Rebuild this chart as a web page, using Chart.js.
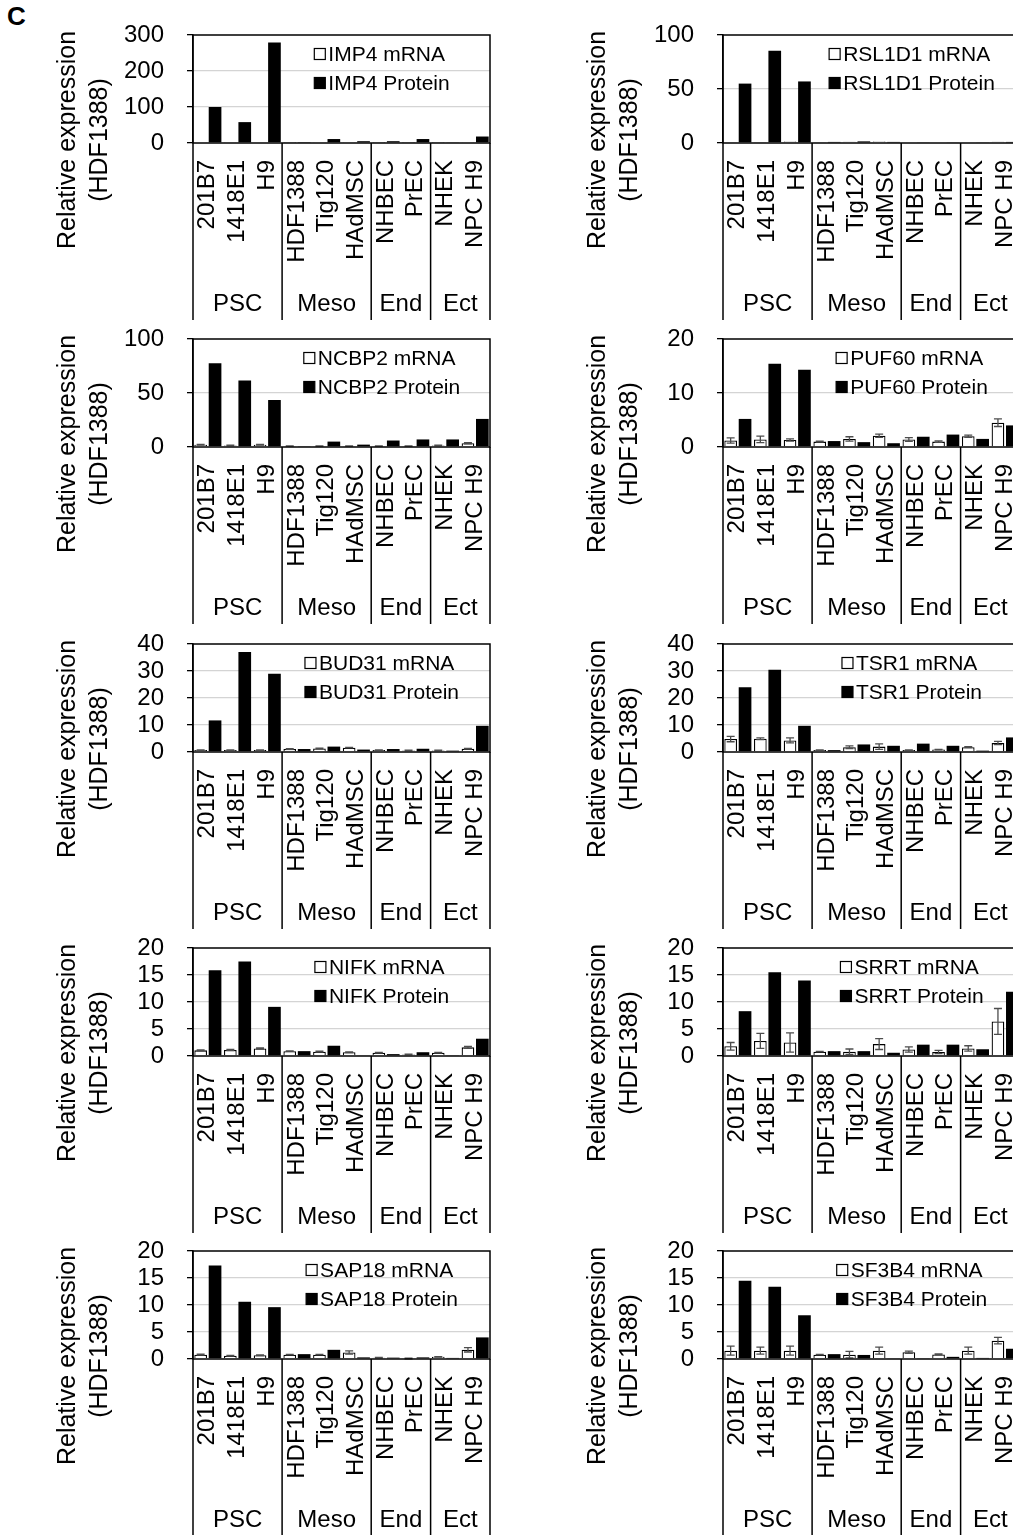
<!DOCTYPE html>
<html>
<head>
<meta charset="utf-8">
<script src="https://cdn.jsdelivr.net/npm/chart.js@4.4.1/dist/chart.umd.min.js"></script>
<style>
    html, body { margin: 0; padding: 0; width: 1013px; height: 1535px; overflow: hidden; background: #fff; }
    canvas.panel { position: absolute; }
    #panelLabel { position: absolute; left: 7px; top: 1px; font: bold 26px "Liberation Sans", Arial, sans-serif; }
</style>
</head>
<body>
<div id="panelLabel">C</div>
<script>
const FONT = '"Liberation Sans", Arial, sans-serif';

const categories = ['201B7', '1418E1', 'H9', 'HDF1388', 'Tig120', 'HAdMSC', 'NHBEC', 'PrEC', 'NHEK', 'NPC H9'];
const groupNames = ['PSC', 'Meso', 'End', 'Ect'];
const groupSizes = [3, 3, 2, 2];

const imp4Mrna = [1.5, 1.2, 2.0, 1.0, 1.2, 1.5, 1.0, 1.0, 1.0, 1.5];
const imp4Err = [0, 0, 0, 0, 0, 0, 0, 0, 0, 0];
const imp4Protein = [100, 58, 279, 1.0, 11, 5, 5, 11, 1.5, 18];

const rsl1d1Mrna = [1.0, 1.0, 1.5, 1.0, 1.2, 1.5, 0.8, 0.8, 0.8, 1.2];
const rsl1d1Err = [0, 0, 0, 0, 0, 0, 0, 0, 0, 0];
const rsl1d1Protein = [55, 85.5, 57, 1.0, 1.5, 1.0, 0.5, 0.5, 0.7, 1.0];

const ncbp2Mrna = [2.0, 1.5, 2.0, 1.0, 1.0, 1.0, 1.0, 1.0, 1.5, 3.5];
const ncbp2Err = [0.3, 0.2, 0.3, 0.1, 0.1, 0.1, 0.1, 0.1, 0.2, 0.5];
const ncbp2Protein = [77.5, 61.5, 43.5, 0.8, 5.0, 2.2, 6.0, 7.0, 7.0, 26];

const puf60Mrna = [1.2, 1.4, 1.3, 1.0, 1.5, 2.1, 1.4, 1.0, 2.0, 4.5];
const puf60Err = [0.5, 0.6, 0.2, 0.1, 0.4, 0.3, 0.35, 0.15, 0.2, 0.7];
const puf60Protein = [5.2, 15.4, 14.3, 1.1, 0.9, 0.7, 1.9, 2.3, 1.5, 4.0];

const bud31Mrna = [0.7, 0.7, 0.7, 1.1, 1.3, 1.6, 0.7, 0.6, 0.6, 1.2];
const bud31Err = [0.1, 0.1, 0.1, 0.1, 0.1, 0.1, 0.1, 0.1, 0.1, 0.1];
const bud31Protein = [11.7, 37, 29, 1.1, 2.0, 0.9, 1.1, 1.2, 0.5, 9.7];

const tsr1Mrna = [4.8, 4.9, 4.3, 0.7, 1.8, 2.0, 0.7, 0.9, 1.8, 3.3];
const tsr1Err = [1.0, 0.3, 0.9, 0.1, 0.5, 1.0, 0.1, 0.1, 0.2, 0.6];
const tsr1Protein = [24, 30.5, 9.7, 0.7, 2.8, 2.3, 3.1, 2.3, 0.5, 5.4];

const nifkMrna = [1.05, 1.1, 1.4, 0.9, 0.8, 0.7, 0.6, 0.3, 0.6, 1.6];
const nifkErr = [0.1, 0.1, 0.1, 0.05, 0.1, 0.05, 0.05, 0.05, 0.05, 0.2];
const nifkProtein = [15.9, 17.5, 9.1, 0.9, 1.9, 0.1, 0.35, 0.7, 0.15, 3.2];

const srrtMrna = [1.8, 2.8, 2.5, 0.8, 0.8, 2.2, 1.2, 0.75, 1.4, 6.4];
const srrtErr = [0.7, 1.4, 1.8, 0.05, 0.5, 1.0, 0.5, 0.3, 0.5, 2.4];
const srrtProtein = [8.3, 15.5, 14.0, 0.9, 0.9, 0.6, 2.1, 2.1, 1.25, 11.9];

const sap18Mrna = [0.8, 0.6, 0.7, 0.8, 0.8, 1.2, 0.25, 0.1, 0.4, 1.7];
const sap18Err = [0.1, 0.05, 0.05, 0.05, 0.05, 0.3, 0.05, 0.05, 0.05, 0.4];
const sap18Protein = [17.3, 10.6, 9.6, 0.9, 1.7, 0.3, 0.25, 0.3, 0.2, 4.0];

const sf3b4Mrna = [1.55, 1.55, 1.55, 0.8, 0.8, 1.55, 1.25, 0.85, 1.55, 3.4];
const sf3b4Err = [0.85, 0.65, 0.85, 0.05, 0.6, 0.65, 0.2, 0.1, 0.65, 0.6];
const sf3b4Protein = [14.5, 13.4, 8.1, 0.9, 0.75, 0.1, 0.15, 0.4, 0.2, 1.9];

// gene, mRNA, error, protein, axis max, axis step, column, row
const panels = [
    ['IMP4', imp4Mrna, imp4Err, imp4Protein, 300, 100, 0, 0],
    ['RSL1D1', rsl1d1Mrna, rsl1d1Err, rsl1d1Protein, 100, 50, 1, 0],
    ['NCBP2', ncbp2Mrna, ncbp2Err, ncbp2Protein, 100, 50, 0, 1],
    ['PUF60', puf60Mrna, puf60Err, puf60Protein, 20, 10, 1, 1],
    ['BUD31', bud31Mrna, bud31Err, bud31Protein, 40, 10, 0, 2],
    ['TSR1', tsr1Mrna, tsr1Err, tsr1Protein, 40, 10, 1, 2],
    ['NIFK', nifkMrna, nifkErr, nifkProtein, 20, 5, 0, 3],
    ['SRRT', srrtMrna, srrtErr, srrtProtein, 20, 5, 1, 3],
    ['SAP18', sap18Mrna, sap18Err, sap18Protein, 20, 5, 0, 4],
    ['SF3B4', sf3b4Mrna, sf3b4Err, sf3b4Protein, 20, 5, 1, 4],
];

const rowTops = [35, 339, 644, 948, 1251];
const colLefts = [0, 530];

function noPad(s) {
    s.paddingTop = 0;
    s.paddingBottom = 0;
    s.paddingLeft = 0;
    s.paddingRight = 0;
}

// frame box, group separators running down through the labels, group names
const groupLines = {
    id: 'groupLines',
    afterDraw(chart) {
        const { ctx, chartArea: a, scales: { x } } = chart;
        ctx.save();
        ctx.strokeStyle = '#000';
        ctx.lineWidth = 1.5;
        ctx.strokeRect(a.left, a.top, a.right - a.left, a.bottom - a.top);
        let start = 0;
        const edges = [x.getPixelForValue(-0.5)];
        groupSizes.forEach(n => {
            start += n;
            edges.push(x.getPixelForValue(start - 0.5));
        });
        edges.forEach(px => {
            ctx.beginPath();
            ctx.moveTo(px, a.bottom);
            ctx.lineTo(px, chart.height);
            ctx.stroke();
        });
        ctx.fillStyle = '#000';
        ctx.font = '24px ' + FONT;
        ctx.textAlign = 'center';
        ctx.textBaseline = 'middle';
        start = 0;
        groupNames.forEach((g, i) => {
            const mid = start + (groupSizes[i] - 1) / 2;
            ctx.fillText(g, x.getPixelForValue(mid), a.bottom + 161);
            start += groupSizes[i];
        });
        ctx.restore();
    }
};

const errorBars = {
    id: 'errorBars',
    afterDatasetsDraw(chart) {
        const { ctx, scales: { y } } = chart;
        chart.data.datasets.forEach((ds, di) => {
            if (!ds.err) return;
            const meta = chart.getDatasetMeta(di);
            ctx.save();
            ctx.strokeStyle = '#4d4d4d';
            ctx.lineWidth = 1.3;
            meta.data.forEach((bar, i) => {
                const e = ds.err[i];
                if (!e) return;
                const v = ds.data[i];
                const top = y.getPixelForValue(v + e);
                const bot = y.getPixelForValue(Math.max(0, v - e));
                ctx.beginPath();
                ctx.moveTo(bar.x, top); ctx.lineTo(bar.x, bot);
                ctx.moveTo(bar.x - 4, top); ctx.lineTo(bar.x + 4, top);
                ctx.moveTo(bar.x - 4, bot); ctx.lineTo(bar.x + 4, bot);
                ctx.stroke();
            });
            ctx.restore();
        });
    }
};

const sideTitle = {
    id: 'sideTitle',
    afterDraw(chart) {
        const { ctx, chartArea: a } = chart;
        const cy = a.top + 105;
        [['Relative expression', 125], ['(HDF1388)', 93]].forEach(([t, dx]) => {
            ctx.save();
            ctx.fillStyle = '#000';
            ctx.font = '25px ' + FONT;
            ctx.textAlign = 'center';
            ctx.textBaseline = 'middle';
            ctx.translate(a.left - dx, cy);
            ctx.rotate(-Math.PI / 2);
            ctx.fillText(t, 0, 0);
            ctx.restore();
        });
    }
};

const boxLegend = {
    id: 'boxLegend',
    afterDraw(chart) {
        const { ctx, chartArea: a } = chart;
        const items = chart.data.datasets.map(ds => ds.label);
        ctx.save();
        ctx.font = '21px ' + FONT;
        const box = 11;
        const widest = Math.max(...items.map(t => ctx.measureText(t).width)) + box + 3;
        const left = a.left + 189 - widest / 2;
        ctx.textBaseline = 'middle';
        ctx.textAlign = 'left';
        items.forEach((t, i) => {
            const cy = a.top + 19 + i * 29;
            const ds = chart.data.datasets[i];
            ctx.fillStyle = ds.backgroundColor;
            ctx.fillRect(left, cy - box / 2, box, box);
            ctx.strokeStyle = '#000';
            ctx.lineWidth = 1.2;
            ctx.strokeRect(left, cy - box / 2, box, box);
            ctx.fillStyle = '#000';
            ctx.fillText(t, left + box + 3, cy + 1);
        });
        ctx.restore();
    }
};

function makePanel(gene, mrna, err, protein, max, step, col, row) {
    const canvas = document.createElement('canvas');
    canvas.className = 'panel';
    canvas.width = 500;
    canvas.height = 300;
    canvas.style.left = colLefts[col] + 'px';
    canvas.style.top = (rowTops[row] - 15) + 'px';
    document.body.appendChild(canvas);

    new Chart(canvas.getContext('2d'), {
        type: 'bar',
        data: {
            labels: categories,
            datasets: [
                {
                    label: gene + ' mRNA',
                    data: mrna,
                    err: err,
                    backgroundColor: '#ffffff',
                    borderColor: '#000000',
                    borderWidth: 1.3,
                    borderSkipped: 'bottom',
                },
                {
                    label: gene + ' Protein',
                    data: protein,
                    backgroundColor: '#000000',
                    borderColor: '#000000',
                    borderWidth: 0,
                },
            ],
        },
        options: {
            responsive: false,
            animation: false,
            devicePixelRatio: 1,
            categoryPercentage: 0.97,
            barPercentage: 0.88,
            layout: { padding: { top: 15, right: 10, left: 0, bottom: 0 } },
            plugins: {
                legend: { display: false },
                tooltip: { enabled: false },
            },
            scales: {
                x: {
                    afterFit: s => { s.height = 177; noPad(s); },
                    grid: { display: false, drawTicks: false },
                    border: { display: false },
                    ticks: {
                        autoSkip: false,
                        minRotation: 90,
                        maxRotation: 90,
                        padding: 17,
                        color: '#000',
                        font: { family: FONT, size: 24 },
                    },
                },
                y: {
                    min: 0,
                    max: max,
                    afterFit: s => { s.width = 193; noPad(s); },
                    grid: {
                        color: c => (c.tick.value === 0 || c.tick.value === max) ? 'rgba(0,0,0,0)' : '#d4d4d4',
                        lineWidth: 1.3,
                        tickColor: '#000',
                        tickLength: 6,
                    },
                    border: { color: '#000', width: 1.5 },
                    ticks: {
                        autoSkip: false,
                        stepSize: step,
                        padding: 23,
                        color: '#000',
                        font: { family: FONT, size: 24 },
                    },
                },
            },
        },
        plugins: [groupLines, errorBars, sideTitle, boxLegend],
    });
}

panels.forEach(p => makePanel(...p));
</script>
</body>
</html>
